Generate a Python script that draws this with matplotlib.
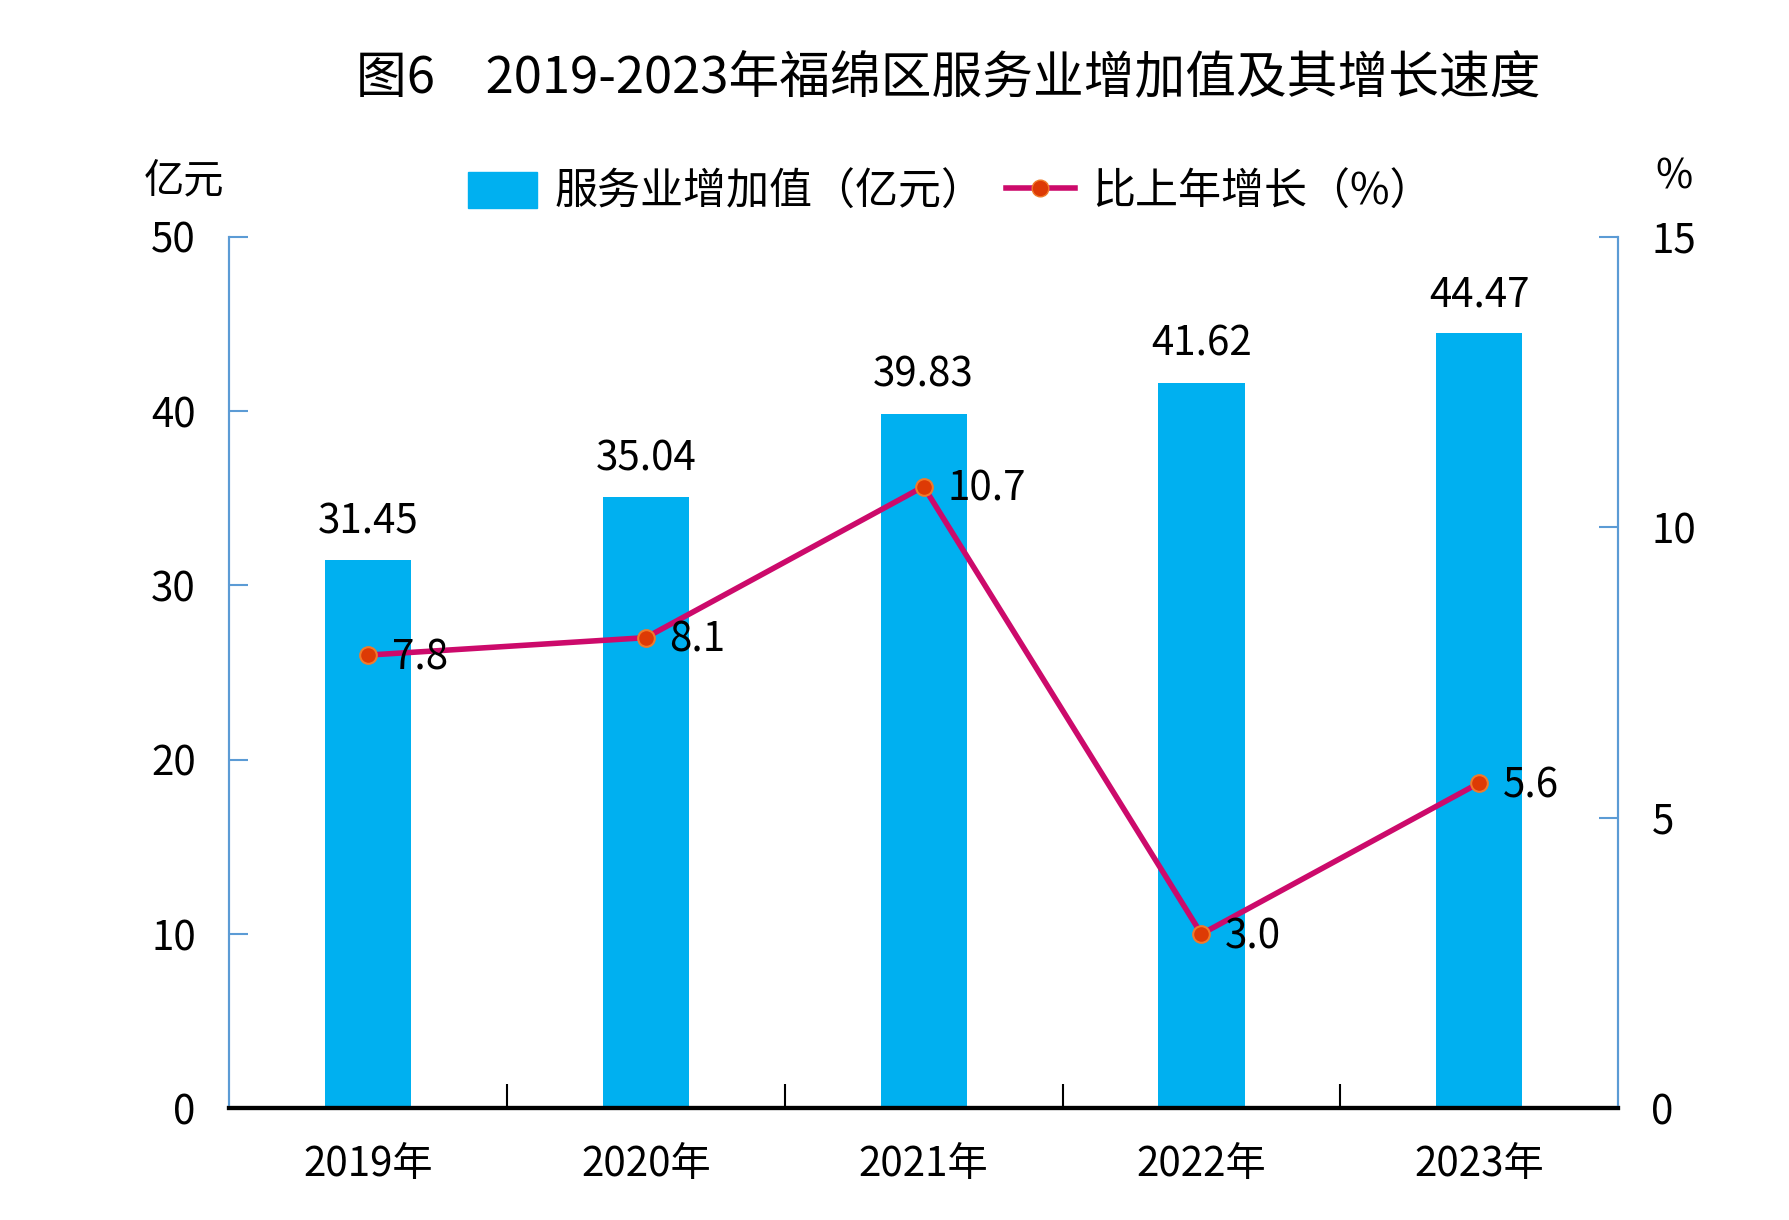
import matplotlib.pyplot as plt
from matplotlib.lines import Line2D
from matplotlib.patches import Patch

plt.rcParams['font.family'] = ['Noto Sans CJK SC', 'DejaVu Sans']

# data
years = ['2019年', '2020年', '2021年', '2022年', '2023年']
value_added = [31.45, 35.04, 39.83, 41.62, 44.47]   # 亿元
growth = [7.8, 8.1, 10.7, 3.0, 5.6]                  # %
left_ticks = [0, 10, 20, 30, 40, 50]
right_ticks = [0, 5, 10, 15]

bar_color = '#00B0F0'
line_color = '#CC0A6B'
axis_blue = '#5B9BD5'
fs = 29

fig = plt.figure(figsize=(17.9, 12.2), dpi=100)
ax = fig.add_axes([0.128, 0.0915, 0.776, 0.7145])
ax2 = ax.twinx()

x = list(range(len(years)))
ax.bar(x, value_added, width=0.31, color=bar_color, zorder=2)
for xi, v in zip(x, value_added):
    ax.annotate(f'{v:.2f}', (xi, v), xytext=(0, 13), textcoords='offset points',
                ha='center', va='bottom', fontsize=fs)

ax2.plot(x, growth, color=line_color, lw=4, marker='o', ms=12,
         mfc='#DD3A05', mec='#F07A2A', mew=1.5, zorder=3)
for xi, g in zip(x, growth):
    ax2.annotate(f'{g:.1f}', (xi, g), xytext=(17, -2), textcoords='offset points',
                 ha='left', va='center', fontsize=fs)

ax.set_xlim(-0.5, len(years) - 0.5)
ax.set_ylim(0, 50)
ax2.set_ylim(0, 15)
ax.set_yticks(left_ticks)
ax2.set_yticks(right_ticks)

# category axis: boundary ticks, labels centred
ax.set_xticks([i + 0.5 for i in x[:-1]])
ax.set_xticklabels([])
ax.set_xticks(x, minor=True)
ax.set_xticklabels(years, minor=True, fontsize=fs)
ax.tick_params(axis='x', which='major', direction='in', length=17, width=1.5, color='black')
ax.tick_params(axis='x', which='minor', length=0, pad=26)

ax.tick_params(axis='y', direction='in', length=14, width=1.5, color=axis_blue,
               labelsize=fs, pad=24)
ax2.tick_params(axis='y', direction='in', length=14, width=1.5, color=axis_blue,
                labelsize=fs, pad=24)

for a in (ax, ax2):
    a.spines['top'].set_visible(False)
    a.spines['left'].set_color(axis_blue)
    a.spines['right'].set_color(axis_blue)
    a.spines['left'].set_linewidth(1.5)
    a.spines['right'].set_linewidth(1.5)
    a.spines['bottom'].set_linewidth(3)
    a.spines['bottom'].set_color('black')

fig.text(0.530, 0.935, '图6　2019-2023年福绵区服务业增加值及其增长速度',
         ha='center', va='center', fontsize=36.5, fontweight='medium')
fig.text(0.103, 0.852, '亿元', ha='center', va='center', fontsize=fs)
fig.text(0.935, 0.855, '%', ha='center', va='center', fontsize=fs)

handles = [Patch(color=bar_color),
           Line2D([], [], color=line_color, lw=4, marker='o', ms=12,
                  mfc='#DD3A05', mec='#F07A2A')]
fig.legend(handles, ['服务业增加值（亿元）', '比上年增长（%）'],
           loc='center', bbox_to_anchor=(0.531, 0.842), ncol=2, frameon=False,
           fontsize=31, handlelength=1.6, handleheight=0.9, handletextpad=0.4,
           columnspacing=0.5)

fig.savefig('out.png', dpi=100)
